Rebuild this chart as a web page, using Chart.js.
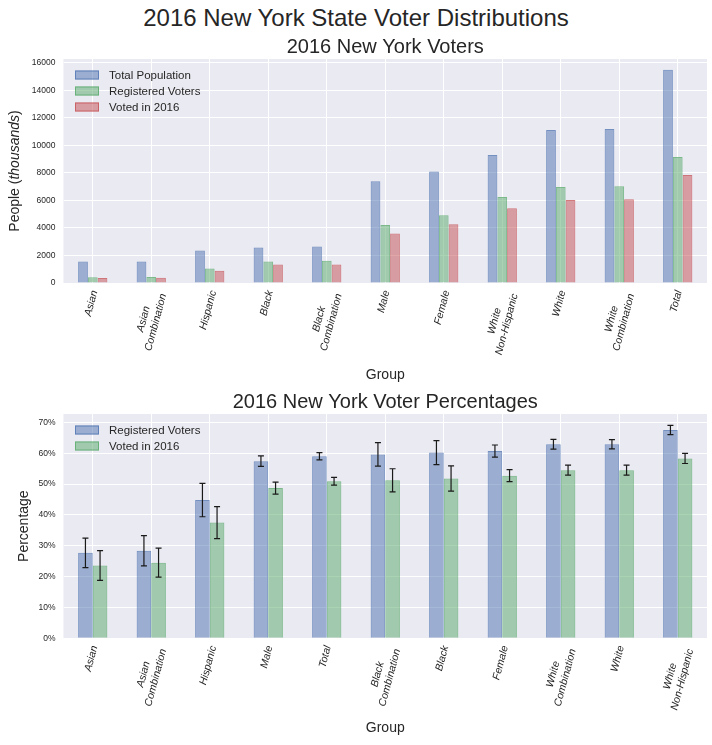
<!DOCTYPE html>
<html>
<head>
<meta charset="utf-8">
<script src="https://cdn.jsdelivr.net/npm/chart.js@4.4.0/dist/chart.umd.min.js"></script>
<style>
    body { margin: 0; background: #fff; width: 712px; height: 745px; position: relative; overflow: hidden;
           font-family: "Liberation Sans", Arial, sans-serif; }
    #suptitle { position: absolute; left: 0; top: 4px; width: 712px; text-align: center;
                font-size: 24px; line-height: 28px; color: #262626; }
    #votersChart { position: absolute; left: 0; top: 30px; }
    #pctChart { position: absolute; left: 0; top: 388px; }
</style>
</head>
<body>
<div id="suptitle">2016 New York State Voter Distributions</div>
<canvas id="votersChart" width="712" height="362"></canvas>
<canvas id="pctChart" width="712" height="357"></canvas>

<script>
// ---- data: top chart (thousands of people) ----
const votersGroups = ['Asian', ['Asian', 'Combination'], 'Hispanic', 'Black', ['Black', 'Combination'],
    'Male', 'Female', ['White', 'Non-Hispanic'], 'White', ['White', 'Combination'], 'Total'];
const totalPopulation = [1560, 1560, 2360, 2580, 2650, 7400, 8110, 9300, 11130, 11200, 15510];
const registeredVoters = [420, 440, 1050, 1560, 1610, 4220, 4920, 6250, 6980, 7040, 9155];
const votedIn2016 = [370, 385, 890, 1340, 1350, 3605, 4270, 5430, 6030, 6095, 7860];
const peopleTicks = [0, 2000, 4000, 6000, 8000, 10000, 12000, 14000, 16000];

// ---- data: bottom chart (percent) ----
const pctGroups = ['Asian', ['Asian', 'Combination'], 'Hispanic', 'Male', 'Total', ['Black', 'Combination'],
    'Black', 'Female', ['White', 'Combination'], 'White', ['White', 'Non-Hispanic']];
const registeredPct = [27.7, 28.4, 44.8, 57.4, 59.0, 59.6, 60.2, 60.7, 62.9, 62.9, 67.5];
const registeredErr = [4.8, 4.9, 5.4, 1.7, 1.2, 3.8, 3.9, 1.95, 1.6, 1.5, 1.5];
const votedPct = [23.6, 24.5, 37.5, 48.7, 50.9, 51.2, 51.8, 52.7, 54.5, 54.5, 58.3];
const votedErr = [4.8, 4.7, 5.2, 1.95, 1.25, 3.75, 4.1, 1.95, 1.6, 1.6, 1.65];
const pctTicks = [0, 10, 20, 30, 40, 50, 60, 70];

const FONT = '"Liberation Sans", Arial, sans-serif';
const TEXT = '#262626';
const BLUE = [76, 114, 176], GREEN = [85, 168, 104], RED = [196, 78, 82];
const fill = c => `rgba(${c[0]},${c[1]},${c[2]},0.5)`;
const edge = c => `rgba(${c[0]},${c[1]},${c[2]},0.75)`;

Chart.defaults.font.family = FONT;
Chart.defaults.color = TEXT;

// grey plot background (seaborn darkgrid look)
const plotBg = {
    id: 'plotBg',
    beforeDraw(chart) {
        const { ctx, chartArea: a } = chart;
        ctx.save();
        ctx.fillStyle = '#EAEAF2';
        ctx.fillRect(a.left, a.top, a.width, a.height);
        ctx.restore();
    }
};

// legend drawn inside the plot, top-left, no frame
const insideLegend = {
    id: 'insideLegend',
    afterDatasetsDraw(chart) {
        const { ctx, chartArea: a } = chart;
        ctx.save();
        chart.data.datasets.forEach((ds, i) => {
            const x = a.left + 11.5;
            const y = a.top + 16 + i * 16;
            ctx.fillStyle = ds.backgroundColor;
            ctx.fillRect(x, y - 4.5, 24, 9);
            ctx.strokeStyle = ds.borderColor;
            ctx.lineWidth = 1;
            ctx.strokeRect(x + 0.5, y - 4, 23, 8);
            ctx.fillStyle = TEXT;
            ctx.font = `11.5px ${FONT}`;
            ctx.textBaseline = 'middle';
            ctx.fillText(ds.label, x + 34, y + 0.5);
        });
        ctx.restore();
    }
};

// y title with italic part: People (thousands)
const peopleTitle = {
    id: 'peopleTitle',
    afterDraw(chart) {
        const { ctx, chartArea: a } = chart;
        const parts = [['People (', 'normal'], ['thousands', 'italic'], [')', 'normal']];
        ctx.save();
        ctx.translate(15, (a.top + a.bottom) / 2);
        ctx.rotate(-Math.PI / 2);
        ctx.fillStyle = TEXT;
        ctx.textBaseline = 'middle';
        let total = 0;
        parts.forEach(p => { ctx.font = `${p[1]} 14px ${FONT}`; total += ctx.measureText(p[0]).width; });
        let x = -total / 2;
        parts.forEach(p => {
            ctx.font = `${p[1]} 14px ${FONT}`;
            ctx.fillText(p[0], x, 0);
            x += ctx.measureText(p[0]).width;
        });
        ctx.restore();
    }
};

// category labels rotated 75deg, box centred under the tick, lines centred (matplotlib style)
const slantedLabels = {
    id: 'slantedLabels',
    afterDraw(chart) {
        const { ctx } = chart;
        const xs = chart.scales.x;
        const ang = 75 * Math.PI / 180;
        const size = 10.5, lh = size * 1.2;
        ctx.save();
        ctx.font = `italic ${size}px ${FONT}`;
        ctx.fillStyle = TEXT;
        ctx.textAlign = 'center';
        ctx.textBaseline = 'middle';
        chart.data.labels.forEach((lab, i) => {
            const lines = Array.isArray(lab) ? lab : [lab];
            const w = Math.max(...lines.map(l => ctx.measureText(l).width));
            const h = lines.length * lh;
            const bh = w * Math.sin(ang) + h * Math.cos(ang);
            ctx.save();
            ctx.translate(xs.getPixelForTick(i) - 1.5, xs.top + 6 + bh / 2);
            ctx.rotate(-ang);
            lines.forEach((l, k) => ctx.fillText(l, 0, (k - (lines.length - 1) / 2) * lh));
            ctx.restore();
        });
        ctx.restore();
    }
};

// error bars from each dataset's "errors" array
const errorBars = {
    id: 'errorBars',
    afterDatasetsDraw(chart) {
        const { ctx } = chart;
        const y = chart.scales.y;
        ctx.save();
        ctx.strokeStyle = '#1a1a1a';
        ctx.lineWidth = 1.2;
        chart.data.datasets.forEach((ds, i) => {
            const meta = chart.getDatasetMeta(i);
            meta.data.forEach((bar, j) => {
                const hi = y.getPixelForValue(ds.data[j] + ds.errors[j]);
                const lo = y.getPixelForValue(ds.data[j] - ds.errors[j]);
                ctx.beginPath();
                ctx.moveTo(bar.x, hi); ctx.lineTo(bar.x, lo);
                ctx.moveTo(bar.x - 3, hi); ctx.lineTo(bar.x + 3, hi);
                ctx.moveTo(bar.x - 3, lo); ctx.lineTo(bar.x + 3, lo);
                ctx.stroke();
            });
        });
        ctx.restore();
    }
};

function xAxis(height) {
    return {
        grid: { color: '#ffffff', offset: false, drawTicks: false, lineWidth: 1 },
        border: { display: false },
        ticks: { display: false, autoSkip: false },
        title: { display: true, text: 'Group', font: { size: 14 }, color: TEXT, padding: { top: 0, bottom: 8.5 } },
        afterFit(scale) { scale.height = height; }
    };
}

function yAxis(max, tickValues, format) {
    return {
        min: 0, max: max,
        grid: { color: '#ffffff', drawTicks: false },
        border: { display: false },
        ticks: { padding: 8, font: { size: 8.5 }, color: TEXT, callback: format },
        afterBuildTicks(scale) { scale.ticks = tickValues.map(v => ({ value: v })); },
        afterFit(scale) { scale.width = 63.5; }
    };
}

function titleOpts(text, top) {
    return { display: true, text: text, fullSize: false, color: TEXT,
             font: { size: 20, weight: 'normal' }, padding: { top: top, bottom: 0 } };
}

new Chart(document.getElementById('votersChart'), {
    type: 'bar',
    data: {
        labels: votersGroups,
        datasets: [
            { label: 'Total Population', data: totalPopulation, backgroundColor: fill(BLUE), borderColor: edge(BLUE), borderWidth: 1 },
            { label: 'Registered Voters', data: registeredVoters, backgroundColor: fill(GREEN), borderColor: edge(GREEN), borderWidth: 1 },
            { label: 'Voted in 2016', data: votedIn2016, backgroundColor: fill(RED), borderColor: edge(RED), borderWidth: 1 }
        ]
    },
    options: {
        responsive: false,
        animation: false,
        layout: { padding: { left: 0, right: 5, top: 0, bottom: 0 } },
        datasets: { bar: { categoryPercentage: 0.5, barPercentage: 1 } },
        plugins: {
            legend: { display: false },
            tooltip: { enabled: false },
            title: titleOpts('2016 New York Voters', 5)
        },
        scales: {
            x: xAxis(109),
            y: yAxis(16290, peopleTicks, v => String(v))
        }
    },
    plugins: [plotBg, insideLegend, peopleTitle, slantedLabels]
});

const pctChart = new Chart(document.getElementById('pctChart'), {
    type: 'bar',
    data: {
        labels: pctGroups,
        datasets: [
            { label: 'Registered Voters', data: registeredPct, errors: registeredErr, backgroundColor: fill(BLUE), borderColor: edge(BLUE), borderWidth: 1 },
            { label: 'Voted in 2016', data: votedPct, errors: votedErr, backgroundColor: fill(GREEN), borderColor: edge(GREEN), borderWidth: 1 }
        ]
    },
    options: {
        responsive: false,
        animation: false,
        layout: { padding: { left: 0, right: 5, top: 0, bottom: 0 } },
        datasets: { bar: { categoryPercentage: 0.5, barPercentage: 1 } },
        plugins: {
            legend: { display: false },
            tooltip: { enabled: false },
            title: titleOpts('2016 New York Voter Percentages', 2)
        },
        scales: {
            x: xAxis(106.7),
            y: Object.assign(yAxis(72.7, pctTicks, v => v + '%'), {
                title: { display: true, text: 'Percentage', font: { size: 14 }, color: TEXT, padding: { top: 16, bottom: 0 } }
            })
        }
    },
    plugins: [plotBg, errorBars, insideLegend, slantedLabels]
});
</script>
</body>
</html>
